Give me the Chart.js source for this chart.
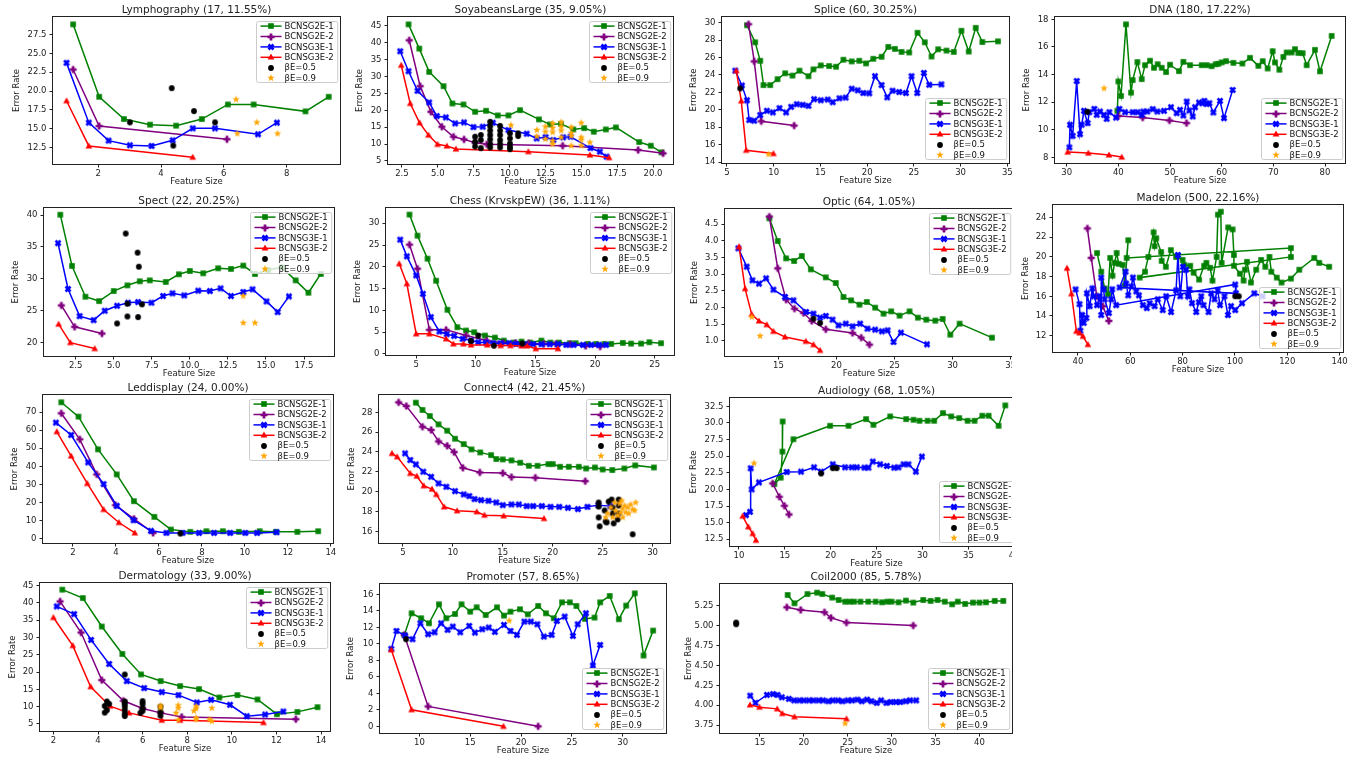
<!DOCTYPE html>
<html>
<head>
<meta charset="utf-8">
<script src="https://cdn.jsdelivr.net/npm/chart.js@4.4.0/dist/chart.umd.min.js"></script>
<style>
body { margin: 0; background: #fff; width: 1356px; height: 758px; overflow: hidden; position: relative; }
.pan { position: absolute; overflow: hidden; }
</style>
</head>
<body>
<script>
// ---- data: [feature size, error rate] pairs ----
// g = BCNSG2E-1, p = BCNSG2E-2, b = BCNSG3E-1, r = BCNSG3E-2, k = βE=0.5, o = βE=0.9

// Lymphography
var lym_g = [[1.20,28.87],[2.03,19.24],[2.82,16.28],[3.65,15.53],[4.48,15.40],[5.30,16.28],[6.13,18.22],[6.95,18.22],[8.60,17.30],[9.34,19.24]];
var lym_p = [[1.20,22.86],[2.03,15.35],[6.10,13.59]];
var lym_b = [[0.99,23.75],[1.70,15.80],[2.33,13.41],[3.01,12.79],[3.70,12.70],[4.37,13.45],[5.01,15.04],[5.72,15.04],[7.09,14.25],[7.69,15.80]];
var lym_r = [[0.99,18.71],[1.70,12.70],[5.01,11.20]];
var lym_k = [[4.34,20.39],[3.01,15.84],[5.05,17.34],[5.72,15.84],[4.39,12.75]];
var lym_o = [[6.39,18.89],[6.43,14.34],[7.05,15.84],[7.71,14.34]];
var lym_xt = [2,4,6,8];
var lym_yt = [12.5,15,17.5,20,22.5,25,27.5];

// SoyabeansLarge
var soy_g = [[2.96,45.49],[3.71,38.30],[4.40,31.40],[5.40,27.17],[6.02,22.04],[6.79,21.75],[7.60,19.58],[8.36,19.88],[9.18,18.50],[9.92,18.50],[10.73,20.07],[12.05,17.32],[12.82,15.84],[13.58,16.03],[14.44,14.36],[15.20,14.75],[15.87,13.67],[16.71,14.36],[17.41,14.95],[19.03,10.62],[19.84,9.53],[20.58,7.56]];
var soy_p = [[3.01,40.76],[3.77,27.17],[4.52,19.58],[5.28,15.15],[6.09,12.19],[6.83,11.40],[7.60,10.42],[8.41,9.93],[13.70,9.53],[18.96,8.25],[20.70,7.27]];
var soy_b = [[2.38,37.51],[2.96,31.60],[3.59,25.79],[4.40,22.34],[4.93,18.30],[5.56,17.91],[6.21,16.13],[6.83,16.43],[7.48,15.05],[8.13,15.15],[8.83,16.33],[9.92,14.16],[11.19,13.08],[11.89,11.70],[12.51,12.09],[13.05,11.21],[13.74,12.00],[14.25,12.19],[15.64,8.84],[16.29,7.76],[16.76,6.28]];
var soy_r = [[2.45,33.37],[3.08,22.04],[3.73,16.33],[4.35,12.68],[4.98,9.93],[5.63,9.43],[6.26,8.55],[11.31,7.76],[15.60,6.78],[16.94,5.99]];
var soy_k = [[7.6,9.3],[7.6,10.7],[7.6,12.2],[8.0,8.8],[8.0,11.2],[8.0,12.7],[8.65,16.6],[8.65,15.3],[8.65,14.0],[8.65,12.7],[8.65,11.4],[8.65,10.0],[8.65,9.0],[9.34,15.4],[9.34,14.0],[9.34,12.7],[9.34,11.2],[9.34,10.0],[9.34,9.0],[10.03,13.2],[10.03,11.7],[10.03,10.2],[10.03,9.2],[10.03,8.5],[10.6,13.2],[10.6,12.4]];
var soy_o = [[10.1,15.6],[11.9,14.2],[11.9,12.3],[12.5,15.2],[12.5,13.7],[12.5,11.5],[13.0,16.2],[13.0,14.8],[13.0,13.5],[13.0,11.0],[13.0,10.0],[13.6,16.5],[13.6,15.2],[13.6,14.0],[13.6,12.0],[14.3,15.0],[14.3,13.3],[14.3,12.4],[14.3,9.5],[15.0,16.3],[15.0,12.0],[15.0,11.3],[15.0,9.6],[15.6,10.5]];
var soy_xt = [2.5,5,7.5,10,12.5,15,17.5,20];
var soy_yt = [5,10,15,20,25,30,35,40,45];

// Splice
var spl_g = [[7.14,29.70],[8.02,27.74],[8.56,25.62],[8.91,22.83],[9.63,22.83],[10.41,23.51],[11.23,24.19],[12.01,23.92],[12.76,24.49],[13.72,23.85],[14.25,24.64],[15.04,25.09],[15.93,25.02],[16.67,24.94],[17.46,25.74],[18.35,25.55],[19.16,25.62],[19.88,25.32],[20.66,25.85],[21.55,26.08],[22.26,27.21],[22.97,26.98],[23.68,26.64],[24.50,26.57],[25.39,28.83],[26.17,27.74],[26.89,26.11],[27.60,26.94],[28.49,26.79],[29.27,26.64],[30.09,29.06],[30.87,26.68],[31.62,29.40],[32.33,27.77],[34.00,27.85]];
var spl_p = [[7.31,29.81],[7.92,25.55],[8.67,18.68],[12.19,18.19]];
var spl_b = [[5.89,24.49],[6.60,22.79],[7.14,21.09],[7.38,18.83],[7.92,18.75],[8.56,19.40],[9.27,19.89],[9.91,19.70],[10.62,20.19],[11.33,19.70],[11.87,20.34],[12.47,20.64],[13.11,20.57],[13.72,20.45],[14.32,21.21],[15.04,21.09],[15.78,21.17],[16.32,20.87],[17.03,21.32],[17.70,21.40],[18.35,22.42],[18.99,22.23],[19.59,21.92],[20.23,21.89],[20.84,23.85],[21.55,22.83],[22.15,21.43],[22.72,22.19],[23.43,22.04],[24.15,21.92],[24.75,23.85],[25.36,21.92],[26.07,24.23],[26.64,22.87],[27.95,22.91]];
var spl_r = [[6.00,24.49],[6.53,21.02],[7.06,15.36],[9.98,14.98]];
var spl_k = [[6.42,22.45]];
var spl_o = [[9.45,14.90]];
var spl_xt = [5,10,15,20,25,30,35];
var spl_yt = [14,16,18,20,22,24,26,28,30];

// DNA
var dna_g = [[39.81,11.37],[40.00,13.50],[40.52,12.45],[41.48,17.64],[42.45,12.69],[42.77,13.60],[43.68,14.90],[44.52,13.67],[45.16,14.68],[46.13,15.00],[46.90,14.49],[47.61,14.75],[48.39,14.49],[49.23,14.18],[50.00,14.71],[51.74,14.25],[52.58,14.92],[53.87,14.68],[56.13,14.68],[57.10,14.68],[58.06,14.61],[58.84,14.75],[59.35,14.78],[60.00,14.88],[60.84,14.97],[62.26,14.85],[64.00,14.80],[65.48,15.21],[67.10,14.63],[67.94,14.97],[68.90,14.44],[69.87,15.69],[70.32,14.88],[71.16,14.35],[71.94,15.28],[72.58,15.60],[73.55,15.60],[74.19,15.84],[74.84,15.57],[75.68,15.55],[76.45,14.68],[78.06,15.79],[79.03,14.23],[81.29,16.80]];
var dna_p = [[40.0,11.0],[44.7,10.88],[49.9,10.67],[53.2,10.48]];
var dna_b = [[30.52,8.72],[30.65,10.36],[31.16,9.56],[31.94,13.53],[32.58,9.68],[32.90,10.36],[33.35,11.37],[34.06,10.48],[34.39,11.27],[35.35,11.51],[35.81,11.08],[36.45,11.32],[37.23,11.08],[37.74,10.79],[38.26,11.27],[39.55,10.88],[40.19,11.51],[41.29,11.27],[42.77,11.27],[43.74,11.27],[44.52,11.08],[44.84,11.32],[45.61,11.32],[46.65,11.49],[47.55,11.32],[48.84,11.37],[50.19,11.63],[51.29,11.20],[51.94,11.44],[52.58,11.03],[53.23,12.04],[53.74,11.39],[54.39,10.96],[54.84,11.63],[55.61,11.97],[56.26,11.92],[56.65,12.09],[57.10,11.87],[57.61,11.92],[58.39,11.25],[59.68,12.09],[60.45,10.84],[62.13,12.88]];
var dna_r = [[30.19,8.38],[34.19,8.31],[38.19,8.17],[40.65,8.02]];
var dna_k = [[34.0,11.3]];
var dna_o = [[37.23,13.0]];
var dna_xt = [30,40,50,60,70,80];
var dna_yt = [8,10,12,14,16,18];

// Spect
var spe_g = [[1.49,40.05],[2.26,32.02],[3.14,27.19],[4.04,26.51],[5.00,28.08],[5.90,28.98],[6.71,29.61],[7.37,29.76],[8.42,29.50],[9.28,30.71],[10.00,31.23],[10.88,30.87],[11.86,31.65],[12.70,31.55],[13.51,32.07],[14.28,30.76],[15.15,31.39],[16.03,31.81],[16.95,29.76],[17.79,27.82],[18.60,30.76]];
var spe_p = [[1.56,25.83],[2.43,22.47],[4.23,21.42]];
var spe_b = [[1.34,35.59],[2.00,28.40],[2.76,24.15],[3.68,23.52],[4.41,24.99],[5.22,25.77],[5.94,26.25],[6.60,26.35],[7.48,26.25],[8.24,27.30],[8.86,27.72],[9.63,27.40],[10.55,28.14],[11.32,28.08],[12.02,28.50],[12.70,27.30],[13.51,27.93],[14.12,28.35],[15.04,26.46],[15.77,24.78],[16.51,27.24]];
var spe_r = [[1.38,22.89],[2.15,20.00],[3.75,19.06]];
var spe_k = [[5.79,37.1],[6.57,34.1],[6.65,31.9],[5.90,26.1],[6.86,26.0],[5.90,24.1],[6.60,24.0],[5.22,23.0]];
var spe_o = [[13.51,27.3],[13.51,23.1],[14.28,23.1]];
var spe_xt = [2.5,5,7.5,10,12.5,15,17.5];
var spe_yt = [20,25,30,35,40];

// Chess (KrvskpEW)
var che_g = [[4.44,31.99],[5.11,27.16],[5.95,21.87],[6.67,16.81],[7.62,10.14],[8.45,6.15],[9.18,5.38],[9.86,5.00],[10.77,4.23],[11.60,3.77],[12.35,3.08],[13.19,2.62],[13.83,2.85],[14.58,2.62],[15.50,3.08],[16.25,2.62],[16.98,2.62],[17.87,2.47],[18.37,2.47],[19.40,2.32],[20.10,2.32],[20.79,2.32],[21.35,2.32],[22.33,2.55],[23.02,2.39],[23.86,2.39],[24.55,2.70],[25.53,2.47]];
var che_p = [[4.44,25.09],[5.11,19.57],[6.11,5.54],[7.51,5.54],[9.18,4.23],[10.91,3.08],[12.30,2.55],[13.33,2.55],[14.44,2.47],[15.70,2.32],[16.70,2.32],[17.92,2.24],[19.21,1.86],[20.43,1.70]];
var che_b = [[3.66,26.24],[4.22,22.41],[5.00,18.04],[5.56,13.82],[6.23,8.45],[6.95,5.15],[7.56,4.54],[8.18,4.16],[8.90,3.47],[9.60,3.08],[10.21,2.70],[10.85,2.62],[11.46,2.47],[12.08,2.47],[12.80,2.47],[13.36,2.32],[14.11,2.24],[14.81,2.24],[15.50,2.24],[16.20,2.24],[16.89,2.24],[17.59,2.09],[18.20,2.09],[18.98,2.09],[19.68,2.09],[20.32,2.09],[20.93,2.09]];
var che_r = [[3.58,20.72],[4.22,16.12],[5.00,4.62],[6.11,4.62],[7.51,3.47],[8.12,2.32],[8.96,2.32],[9.60,2.09],[10.96,2.09],[12.08,1.93],[12.91,1.93],[13.83,1.86],[14.30,1.86],[15.03,1.23],[16.89,1.23]];
var che_k = [[10.21,4.2],[11.52,1.9],[9.6,3.0],[13.9,2.4]];
var che_o = [];
var che_xt = [5,10,15,20,25];
var che_yt = [0,5,10,15,20,25,30];

// Optic
var opt_g = [[14.22,4.67],[14.94,3.99],[15.66,3.47],[16.35,3.39],[17.01,3.54],[17.79,3.14],[19.08,2.90],[19.94,2.73],[20.60,2.31],[21.26,2.21],[21.98,2.08],[22.61,2.16],[23.33,1.99],[24.05,1.81],[24.71,1.88],[25.43,1.75],[26.29,1.88],[27.01,1.69],[27.73,1.63],[28.51,1.60],[29.14,1.65],[29.80,1.18],[30.60,1.51],[33.39,1.09]];
var opt_p = [[14.22,4.72],[14.94,3.17],[15.66,2.23],[16.38,1.96],[17.16,1.83],[17.87,1.59],[19.08,1.34],[21.38,1.23],[22.13,1.09],[22.84,0.88]];
var opt_b = [[11.55,3.77],[12.27,3.22],[12.76,2.81],[13.33,2.71],[13.94,2.87],[14.57,2.53],[15.57,2.31],[16.29,2.21],[17.39,1.86],[18.02,1.81],[18.59,1.69],[19.08,1.74],[19.66,1.63],[20.17,1.46],[20.80,1.51],[21.38,1.43],[22.04,1.51],[22.67,1.36],[23.33,1.33],[23.91,1.28],[24.40,1.31],[24.91,0.96],[25.55,1.24],[27.79,0.89]];
var opt_r = [[11.61,3.82],[12.13,2.56],[12.70,1.79],[13.33,1.59],[13.99,1.48],[14.57,1.28],[15.57,1.11],[17.36,0.98],[18.02,0.88],[18.59,0.71]];
var opt_k = [[18.02,1.66],[18.59,1.53]];
var opt_o = [[12.70,1.71],[13.42,1.14]];
var opt_xt = [15,20,25,30,35];
var opt_yt = [1.0,1.5,2.0,2.5,3.0,3.5,4.0,4.5];

// Madelon
var mad_g = [[47.3,20.4],[48.9,18.5],[50.2,16.8],[51.5,16.2],[52.3,19.9],[53.2,18.1],[54.0,19.4],[54.8,20.4],[55.6,19.3],[57.1,19.2],[57.9,17.1],[59.2,21.7],[58.6,19.9],[121.4,20.9],[121.4,20.0],[63.6,17.9],[65.6,18.5],[66.9,20.0],[68.9,22.5],[69.3,21.1],[69.9,21.9],[71.8,20.5],[72.0,19.6],[73.6,19.0],[75.5,20.7],[77.5,20.0],[80.0,19.7],[80.6,19.2],[82.9,19.1],[84.2,18.4],[86.3,17.7],[88.2,19.1],[89.1,19.4],[90.5,18.9],[91.4,17.6],[93.0,20.0],[93.5,24.3],[94.6,24.6],[94.9,19.4],[97.4,23.0],[99.1,22.8],[99.6,20.2],[99.6,19.1],[101.9,18.3],[103.3,17.6],[103.8,18.7],[104.6,19.5],[106.1,17.4],[108.1,18.7],[110.0,19.7],[111.6,19.0],[113.2,20.0],[113.9,18.5],[116.0,17.9],[117.8,17.4],[121.4,17.8],[124.6,18.7],[130.3,19.9],[132.2,19.4],[136.0,19.0]];
var mad_p = [[43.6,22.9],[45.1,19.9],[47.2,16.0],[49.5,15.0],[51.8,13.5]];
var mad_b = [[39.1,16.7],[40.6,15.2],[40.9,12.5],[41.6,14.1],[42.2,13.3],[43.2,13.8],[43.4,16.3],[44.5,15.0],[45.5,16.8],[46.1,16.0],[47.3,15.1],[48.3,16.0],[48.9,14.1],[48.9,17.9],[49.8,16.7],[50.2,15.7],[51.8,14.3],[52.7,15.7],[53.1,16.7],[54.6,15.1],[100.1,17.2],[100.4,16.3],[55.9,16.9],[58.2,18.5],[58.4,17.3],[59.2,16.1],[60.4,17.0],[61.0,17.9],[62.3,16.5],[63.3,16.1],[64.8,15.1],[66.3,14.8],[67.4,15.3],[69.3,15.0],[70.5,15.7],[72.4,14.6],[73.7,16.0],[75.6,14.4],[77.5,16.6],[78.2,20.2],[79.1,16.0],[80.1,19.0],[81.3,18.7],[82.0,16.0],[82.6,16.7],[83.6,15.3],[85.2,14.4],[86.2,15.4],[87.1,16.0],[88.0,15.1],[89.9,14.4],[90.9,16.3],[92.2,15.7],[93.4,16.6],[94.3,15.1],[96.0,16.0],[97.3,14.1],[98.5,15.0],[100.1,14.6],[102.7,15.3],[107.4,16.3],[110.6,16.0]];
var mad_r = [[35.8,18.86],[37.5,16.26],[39.4,12.45],[40.6,12.28],[41.9,11.94],[43.8,11.10]];
var mad_k = [[100.1,16.0],[101.5,16.0]];
var mad_o = [];
var mad_xt = [40,60,80,100,120,140];
var mad_yt = [12,14,16,18,20,22,24];

// Leddisplay
var led_g = [[1.46,75.57],[2.26,67.59],[3.17,49.41],[4.04,35.49],[4.84,20.65],[5.79,11.93],[6.56,4.88],[7.46,3.58],[8.21,3.95],[8.98,3.95],[9.72,3.58],[10.69,3.95],[11.44,3.58],[12.44,3.58],[13.41,3.95]];
var led_p = [[1.46,69.44],[2.32,54.97],[3.11,35.49],[3.98,18.42],[4.84,10.82],[5.73,3.02]];
var led_b = [[1.21,64.25],[1.92,57.38],[2.71,42.17],[3.43,30.11],[4.04,18.05],[4.82,10.07],[5.63,4.14],[6.35,3.02],[7.10,3.02],[7.87,3.02],[8.57,3.02],[9.32,3.02],[10.02,3.02],[10.57,3.02],[11.48,3.39]];
var led_r = [[1.25,59.24],[1.92,45.70],[2.67,30.48],[3.43,16.01],[4.14,8.78],[4.88,3.02]];
var led_k = [[7.0,2.65]];
var led_o = [];
var led_xt = [2,4,6,8,10,12,14];
var led_yt = [0,10,20,30,40,50,60,70];

// Connect4
var con_g = [[6.30,28.98],[6.96,28.24],[7.70,27.63],[8.57,26.79],[9.43,26.15],[10.22,25.34],[11.09,24.80],[11.87,24.26],[12.74,23.96],[13.83,23.69],[14.35,23.29],[15.00,23.25],[15.87,23.15],[16.74,22.92],[17.61,22.61],[18.48,22.61],[19.57,22.78],[20.00,22.78],[20.74,22.51],[21.61,22.51],[22.61,22.51],[23.35,22.34],[24.22,22.44],[25.00,22.24],[25.96,22.18],[27.17,22.34],[28.26,22.65],[30.13,22.44]];
var con_p = [[4.57,29.01],[5.35,28.64],[6.96,26.55],[7.83,26.22],[8.57,25.07],[9.43,24.63],[10.13,23.99],[11.00,22.41],[12.70,21.94],[15.00,21.87],[15.87,21.47],[18.26,21.41],[23.26,21.06]];
var con_b = [[5.22,23.86],[5.74,23.19],[6.30,22.75],[7.04,22.01],[7.83,21.50],[8.57,20.83],[9.35,20.49],[10.22,20.05],[11.09,19.72],[11.65,19.55],[12.17,19.25],[12.83,19.14],[13.57,19.08],[14.35,18.91],[15.00,18.64],[15.87,18.71],[16.61,18.71],[17.39,18.54],[18.04,18.54],[18.91,18.54],[19.78,18.47],[20.65,18.47],[21.52,18.37],[22.52,18.24],[23.48,18.47],[24.57,18.64],[25.78,18.54]];
var con_r = [[3.91,23.86],[4.43,23.52],[5.74,21.84],[6.39,21.57],[7.09,20.59],[7.91,20.26],[8.35,19.72],[9.13,18.47],[10.43,18.07],[12.39,17.97],[13.17,17.63],[15.09,17.56],[19.13,17.29]];
var con_k = [[24.6,18.9],[24.6,18.5],[24.6,17.4],[24.7,16.5],[25.2,18.1],[25.3,17.0],[25.4,16.9],[25.6,19.0],[25.9,19.2],[26.0,18.4],[26.0,17.8],[26.1,16.8],[26.5,17.2],[26.6,19.2],[26.6,18.6],[26.6,17.8],[28.0,15.7]];
var con_o = [[25.3,17.4],[25.5,17.8],[25.8,18.4],[26.0,17.4],[26.2,18.9],[26.3,18.1],[26.5,17.6],[26.7,18.8],[26.8,17.9],[26.9,19.1],[27.0,18.3],[27.0,17.4],[27.2,18.6],[27.3,17.9],[27.5,18.4],[27.6,17.8],[27.8,18.7],[28.0,18.2],[28.2,18.1],[28.3,18.9]];
var con_xt = [5,10,15,20,25,30];
var con_yt = [16,18,20,22,24,26,28];

// Audiology
var aud_g = [[14.76,30.23],[14.73,25.70],[14.55,21.77],[13.85,20.81],[15.93,27.56],[19.93,29.58],[21.93,29.58],[23.85,30.59],[24.65,29.73],[26.47,30.99],[28.22,30.59],[29.02,30.48],[29.67,30.33],[30.55,30.33],[31.27,30.33],[32.22,31.49],[33.13,30.99],[34.00,30.74],[34.91,30.33],[35.67,30.33],[36.51,31.09],[37.20,31.09],[38.29,29.58],[39.02,32.65]];
var aud_p = [[13.67,20.91],[14.40,18.90],[14.95,17.54],[15.45,16.23]];
var aud_b = [[10.76,16.13],[11.20,16.63],[11.27,23.18],[11.38,20.01],[12.18,21.06],[15.20,22.63],[16.76,22.68],[18.18,23.33],[18.95,22.68],[20.22,23.78],[21.56,23.33],[22.29,23.33],[22.84,23.33],[23.67,23.28],[24.11,23.28],[24.58,24.19],[25.38,23.78],[26.11,23.53],[26.91,23.28],[27.38,23.33],[27.93,23.78],[28.47,23.78],[29.27,22.68],[29.93,24.94]];
var aud_r = [[10.40,15.98],[11.02,14.37],[11.49,13.36],[11.85,12.35]];
var aud_k = [[18.95,22.4],[20.22,23.2],[20.65,23.2]];
var aud_o = [[11.64,23.94]];
var aud_xt = [10,15,20,25,30,35,40];
var aud_yt = [12.5,15,17.5,20,22.5,25,27.5,30,32.5];

// Dermatology
var der_g = [[2.40,43.84],[3.32,41.42],[4.17,33.19],[5.09,25.25],[5.93,19.34],[6.81,17.41],[7.68,15.96],[8.53,15.09],[9.44,12.67],[10.25,13.35],[11.15,12.09],[12.02,7.83],[12.94,8.50],[13.84,9.86]];
var der_p = [[2.30,40.45],[3.24,31.45],[4.17,17.70],[5.14,11.70],[6.00,9.47],[6.81,8.21],[7.75,7.05],[12.87,6.37]];
var der_b = [[2.15,39.00],[2.93,36.77],[3.69,29.32],[4.50,22.35],[5.29,17.41],[6.07,15.38],[6.86,14.22],[7.61,13.35],[8.43,11.22],[9.07,12.00],[9.92,10.55],[10.67,7.25],[11.49,7.73],[12.31,8.60]];
var der_r = [[2.00,35.80],[2.87,27.67],[3.67,15.77],[4.54,10.15],[5.39,8.21],[6.86,6.08],[7.68,6.08],[11.42,5.41]];
var der_k = [[4.4,11.5],[4.5,10.8],[4.3,10.2],[4.4,9.0],[4.3,8.3],[5.2,19.3],[5.2,11.5],[5.2,10.8],[5.2,10.0],[5.2,9.0],[5.2,8.0],[5.2,7.3],[6.0,11.6],[6.0,10.8],[6.0,9.6],[6.0,8.8],[5.9,8.2],[6.8,10.0],[6.8,8.6],[6.8,7.4]];
var der_o = [[6.8,10.3],[6.8,9.7],[7.6,10.4],[7.6,9.6],[7.5,8.2],[7.6,6.2],[8.4,10.1],[8.4,9.5],[8.3,8.8],[8.4,6.8],[8.4,6.3],[9.1,9.6],[9.1,5.8],[9.0,6.3]];
var der_xt = [2,4,6,8,10,12,14];
var der_yt = [5,10,15,20,25,30,35,40,45];

// Promoter
var pro_g = [[8.51,11.08],[9.23,13.70],[10.17,13.10],[10.94,12.49],[11.92,14.79],[12.64,13.10],[13.50,13.62],[14.14,14.79],[14.99,13.90],[15.63,14.43],[16.52,13.50],[17.63,14.43],[18.32,13.42],[18.96,13.90],[19.89,14.19],[20.66,13.58],[21.68,14.59],[22.45,13.70],[23.22,13.10],[24.03,15.03],[24.80,15.03],[25.44,14.59],[26.29,13.02],[27.23,13.18],[27.78,15.03],[28.72,15.80],[29.62,12.98],[30.34,14.63],[31.19,16.12],[32.05,8.58],[32.99,11.60]];
var pro_p = [[8.51,11.08],[10.85,2.41],[21.68,0.0]];
var pro_b = [[7.23,9.39],[7.74,11.56],[8.59,11.00],[9.32,10.56],[10.09,12.49],[10.85,11.16],[11.49,11.40],[12.13,12.49],[12.77,11.69],[13.28,12.09],[14.01,11.40],[14.90,12.17],[15.46,11.36],[16.18,11.77],[16.82,11.97],[17.42,11.44],[18.32,12.29],[18.96,11.56],[19.59,11.08],[20.32,12.69],[20.96,12.69],[21.60,12.37],[22.24,10.88],[23.01,11.08],[23.52,12.77],[24.29,13.30],[25.10,10.96],[25.57,12.37],[26.38,13.70],[27.06,7.37],[27.78,9.87]];
var pro_r = [[7.23,9.27],[9.23,2.01],[18.27,0.0]];
var pro_k = [[8.68,10.56]];
var pro_o = [[18.83,12.81]];
var pro_xt = [10,15,20,25,30];
var pro_yt = [0,2,4,6,8,10,12,14,16];

// Coil2000
var coi_g = [[18.16,5.388],[18.94,5.283],[20.42,5.40],[21.51,5.417],[22.10,5.40],[23.23,5.355],[23.97,5.325],[24.71,5.304],[25.21,5.304],[25.70,5.304],[26.44,5.304],[27.33,5.304],[28.17,5.304],[28.91,5.296],[29.50,5.304],[29.99,5.304],[30.78,5.296],[31.62,5.317],[32.46,5.292],[33.59,5.325],[34.43,5.313],[35.22,5.325],[36.05,5.304],[36.89,5.271],[37.53,5.304],[38.37,5.275],[39.26,5.292],[40.00,5.292],[40.74,5.296],[41.73,5.313],[42.71,5.313]];
var coi_p = [[18.06,5.233],[19.64,5.20],[22.35,5.17],[23.09,5.10],[24.86,5.04],[32.46,5.003]];
var coi_b = [[13.9,4.12],[14.5,4.03],[15.8,4.13],[16.5,4.14],[17.0,4.13],[17.5,4.10],[18.3,4.08],[18.9,4.06],[19.5,4.06],[20.0,4.06],[20.6,4.06],[21.1,4.06],[21.7,4.06],[22.2,4.06],[22.8,4.05],[23.3,4.06],[23.9,4.06],[24.4,4.05],[25.0,4.06],[25.5,4.06],[26.1,4.07],[26.6,4.05],[27.2,4.07],[27.7,4.05],[28.3,4.03],[28.8,4.06],[29.4,4.03],[29.9,4.04],[30.5,4.04],[31.0,4.04],[31.6,4.05],[32.1,4.06],[32.8,4.06]];
var coi_r = [[13.87,4.004],[14.95,3.975],[16.97,3.954],[17.56,3.895],[18.94,3.854],[24.86,3.829]];
var coi_k = [[12.3,5.04],[12.3,5.02]];
var coi_o = [[24.71,3.77]];
var coi_xt = [15,20,25,30,35,40];
var coi_yt = [3.75,4.0,4.25,4.5,4.75,5.0,5.25];

// ---- series styles (same in every panel) ----
var styles = [
  {label: 'BCNSG2E-1', color: '#008000', m: 's', line: true},
  {label: 'BCNSG2E-2', color: '#800080', m: 'P', line: true},
  {label: 'BCNSG3E-1', color: '#0000ff', m: 'X', line: true},
  {label: 'BCNSG3E-2', color: '#ff0000', m: '^', line: true},
  {label: 'βE=0.5', color: '#000000', m: 'o', line: false},
  {label: 'βE=0.9', color: '#ffa500', m: '*', line: false}
];

// small canvases used as point styles, like matplotlib markers
function makeMarker(shape, color) {
  var c = document.createElement('canvas');
  c.width = 10; c.height = 10;
  var g = c.getContext('2d');
  g.fillStyle = color;
  g.translate(5, 5);
  g.beginPath();
  if (shape == 's') {
    g.rect(-2.8, -2.8, 5.6, 5.6);
  } else if (shape == 'o') {
    g.arc(0, 0, 2.9, 0, Math.PI * 2);
  } else if (shape == '^') {
    g.moveTo(0, -3.4); g.lineTo(3.3, 2.5); g.lineTo(-3.3, 2.5); g.closePath();
  } else if (shape == 'P' || shape == 'X') {
    if (shape == 'X') g.rotate(Math.PI / 4);
    var a = 3.5, b = 1.35;
    g.moveTo(-b, -a); g.lineTo(b, -a); g.lineTo(b, -b); g.lineTo(a, -b); g.lineTo(a, b); g.lineTo(b, b);
    g.lineTo(b, a); g.lineTo(-b, a); g.lineTo(-b, b); g.lineTo(-a, b); g.lineTo(-a, -b); g.lineTo(-b, -b);
    g.closePath();
  } else if (shape == '*') {
    for (var i = 0; i < 10; i++) {
      var rr = i % 2 == 0 ? 3.9 : 1.6;
      var ang = -Math.PI / 2 + i * Math.PI / 5;
      if (i == 0) g.moveTo(rr * Math.cos(ang), rr * Math.sin(ang));
      else g.lineTo(rr * Math.cos(ang), rr * Math.sin(ang));
    }
    g.closePath();
  }
  g.fill();
  return c;
}
var markers = styles.map(function(s) { return makeMarker(s.m, s.color); });

// frame, title over the axes and matplotlib-like legend inside the axes
var mplPlugin = {
  id: 'mpl',
  afterDraw: function(chart, args, opts) {
    var a = chart.chartArea, g = chart.ctx;
    g.save();
    g.strokeStyle = '#222';
    g.lineWidth = 1;
    g.strokeRect(Math.round(a.left) - 0.5, Math.round(a.top) - 0.5, Math.round(a.right) - Math.round(a.left) + 1, Math.round(a.bottom) - Math.round(a.top) + 1);

    // title centred on the plot area
    g.font = '10.5px "DejaVu Sans"';
    g.fillStyle = '#222';
    g.textAlign = 'center';
    g.textBaseline = 'middle';
    g.fillText(opts.title, (a.left + a.right) / 2, a.top - 6.5);

    g.font = '8.5px "DejaVu Sans"';
    var tw = 0;
    styles.forEach(function(s) { tw = Math.max(tw, g.measureText(s.label).width); });
    var rh = 10.4, w = 28 + tw + 4, h = 5 * rh + 9;
    var x0 = Math.round(a.right - 3 - w) + 0.5;
    var y0 = Math.round(opts.pos == 'ur' ? a.top + 4 : a.bottom - 4 - h) + 0.5;
    g.fillStyle = 'rgba(255,255,255,0.8)';
    g.strokeStyle = '#cccccc';
    g.beginPath();
    if (g.roundRect) g.roundRect(x0, y0, w, h, 2); else g.rect(x0, y0, w, h);
    g.fill();
    g.stroke();
    styles.forEach(function(s, i) {
      var cy = y0 + 4.6 + i * rh;
      if (s.line) {
        g.strokeStyle = s.color;
        g.lineWidth = 1.5;
        g.beginPath();
        g.moveTo(x0 + 4, cy);
        g.lineTo(x0 + 25, cy);
        g.stroke();
      }
      g.drawImage(markers[i], Math.round(x0 + 14.5) - 5, Math.round(cy) - 5);
      g.fillStyle = '#111';
      g.textBaseline = 'middle';
      g.textAlign = 'left';
      g.fillText(s.label, x0 + 28, cy + 0.5);
    });
    g.restore();
  }
};

// ---- panels: box = plot area in page pixels, off = distance of y label ----
var panels = [
  {title: 'Lymphography (17, 11.55%)', box: [53, 17, 340, 164], off: 36, leg: 'ur', x: [0.56, 9.70], y: [10.3, 29.85], xt: lym_xt, yt: lym_yt, xd: 0, yd: 1, d: [lym_g, lym_p, lym_b, lym_r, lym_k, lym_o]},
  {title: 'SoyabeansLarge (35, 9.05%)', box: [388, 17, 673, 164], off: 28, leg: 'ur', x: [1.53, 21.39], y: [4.11, 47.66], xt: soy_xt, yt: soy_yt, xd: 1, yd: 0, d: [soy_g, soy_p, soy_b, soy_r, soy_k, soy_o]},
  {title: 'Splice (60, 30.25%)', box: [722, 17, 1009, 163], off: 28, leg: 'lr', clip: 1012, x: [4.47, 35.18], y: [13.9, 30.64], xt: spl_xt, yt: spl_yt, xd: 0, yd: 0, d: [spl_g, spl_p, spl_b, spl_r, spl_k, spl_o]},
  {title: 'DNA (180, 17.22%)', box: [1055, 17, 1345, 163], off: 28, leg: 'lr', x: [27.74, 83.87], y: [7.59, 18.17], xt: dna_xt, yt: dna_yt, xd: 0, yd: 0, d: [dna_g, dna_p, dna_b, dna_r, dna_k, dna_o]},
  {title: 'Spect (22, 20.25%)', box: [44, 208, 334, 356], off: 28, leg: 'ur', x: [0.42, 19.47], y: [17.9, 41.1], xt: spe_xt, yt: spe_yt, xd: 1, yd: 0, d: [spe_g, spe_p, spe_b, spe_r, spe_k, spe_o]},
  {title: 'Chess (KrvskpEW) (36, 1.11%)', box: [386, 208, 674, 355], off: 28, leg: 'ur', x: [2.47, 26.62], y: [-0.23, 33.5], xt: che_xt, yt: che_yt, xd: 0, yd: 0, d: [che_g, che_p, che_b, che_r, che_k, che_o]},
  {title: 'Optic (64, 1.05%)', box: [725, 209, 1013, 356], off: 30, leg: 'ur', clip: 1012, x: [10.4, 35.2], y: [0.54, 4.95], xt: opt_xt, yt: opt_yt, xd: 0, yd: 1, d: [opt_g, opt_p, opt_b, opt_r, opt_k, opt_o]},
  {title: 'Madelon (500, 22.16%)', box: [1053, 205, 1343, 352], off: 27, leg: 'lr', x: [30.46, 141.3], y: [10.34, 25.28], xt: mad_xt, yt: mad_yt, xd: 0, yd: 0, d: [mad_g, mad_p, mad_b, mad_r, mad_k, mad_o]},
  {title: 'Leddisplay (24, 0.00%)', box: [43, 395, 333, 543], off: 28, leg: 'ur', x: [0.61, 14.1], y: [-2.6, 79.6], xt: led_xt, yt: led_yt, xd: 0, yd: 0, d: [led_g, led_p, led_b, led_r, led_k, led_o]},
  {title: 'Connect4 (42, 21.45%)', box: [379, 395, 670, 543], off: 27, leg: 'ur', x: [2.61, 31.74], y: [14.82, 29.75], xt: con_xt, yt: con_yt, xd: 0, yd: 0, d: [con_g, con_p, con_b, con_r, con_k, con_o]},
  {title: 'Audiology (68, 1.05%)', box: [730, 398, 1023, 546], off: 36, leg: 'lr', clip: 1012, x: [9.02, 40.95], y: [11.49, 33.76], xt: aud_xt, yt: aud_yt, xd: 0, yd: 1, d: [aud_g, aud_p, aud_b, aud_r, aud_k, aud_o]},
  {title: 'Dermatology (33, 9.00%)', box: [40, 583, 330, 731], off: 27, leg: 'ur', x: [1.40, 14.4], y: [2.97, 45.77], xt: der_xt, yt: der_yt, xd: 0, yd: 0, d: [der_g, der_p, der_b, der_r, der_k, der_o]},
  {title: 'Promoter (57, 8.65%)', box: [380, 584, 666, 733], off: 29, leg: 'lr', x: [6.12, 34.26], y: [-0.81, 17.25], xt: pro_xt, yt: pro_yt, xd: 0, yd: 0, d: [pro_g, pro_p, pro_b, pro_r, pro_k, pro_o]},
  {title: 'Coil2000 (85, 5.78%)', box: [720, 584, 1012, 733], off: 31, leg: 'lr', x: [10.46, 43.7], y: [3.65, 5.526], xt: coi_xt, yt: coi_yt, xd: 0, yd: 2, d: [coi_g, coi_p, coi_b, coi_r, coi_k, coi_o]}
];

Chart.defaults.font.family = '"DejaVu Sans", sans-serif';
Chart.defaults.color = '#222';

var TOP = 18, BOT = 23, RIGHT = 12;

panels.forEach(function(p) {
  var W = p.off + 5;
  var left = p.box[0] - W, top = p.box[1] - TOP;
  var cw = p.box[2] - p.box[0] + W + RIGHT;
  var ch = p.box[3] - p.box[1] + TOP + BOT;

  var div = document.createElement('div');
  div.className = 'pan';
  div.style.left = left + 'px';
  div.style.top = top + 'px';
  div.style.width = (p.clip ? Math.min(cw, p.clip - left) : cw) + 'px';
  div.style.height = ch + 'px';
  var cv = document.createElement('canvas');
  cv.width = cw; cv.height = ch;
  cv.style.width = cw + 'px'; cv.style.height = ch + 'px';
  div.appendChild(cv);
  document.body.appendChild(div);

  var datasets = p.d.map(function(pts, i) {
    var s = styles[i];
    return {
      label: s.label,
      data: pts,
      showLine: s.line,
      borderColor: s.color,
      backgroundColor: s.color,
      borderWidth: 1.5,
      tension: 0,
      pointStyle: markers[i],
      pointRadius: 3,
      order: 6 - i
    };
  });

  var gridOpts = {display: true, drawOnChartArea: false, drawTicks: true, tickLength: 3.5, color: '#222', lineWidth: 1};

  new Chart(cv, {
    type: 'scatter',
    data: {datasets: datasets},
    plugins: [mplPlugin],
    options: {
      responsive: false,
      animation: false,
      layout: {padding: {left: 0, top: TOP, bottom: 0, right: RIGHT}},
      plugins: {
        legend: {display: false},
        tooltip: {enabled: false},
        title: {display: false},
        mpl: {pos: p.leg, title: p.title}
      },
      scales: {
        x: {
          type: 'linear', min: p.x[0], max: p.x[1],
          afterBuildTicks: function(s) { s.ticks = p.xt.map(function(v) { return {value: v}; }); },
          afterFit: function(s) { s.height = BOT; },
          ticks: {font: {size: 8.5}, color: '#222', padding: 1.5, maxRotation: 0, autoSkip: false,
            callback: function(v) { return Number(v).toFixed(p.xd); }},
          grid: gridOpts,
          border: {display: false},
          title: {display: true, text: 'Feature Size', color: '#222', font: {size: 8.5}, padding: 0}
        },
        y: {
          type: 'linear', min: p.y[0], max: p.y[1],
          afterBuildTicks: function(s) { s.ticks = p.yt.map(function(v) { return {value: v}; }); },
          afterFit: function(s) { s.width = W; },
          ticks: {font: {size: 8.5}, color: '#222', padding: 3, autoSkip: false,
            callback: function(v) { return Number(v).toFixed(p.yd); }},
          grid: gridOpts,
          border: {display: false},
          title: {display: true, text: 'Error Rate', color: '#222', font: {size: 8.5}, padding: 0}
        }
      }
    }
  });
});
</script>
</body>
</html>
